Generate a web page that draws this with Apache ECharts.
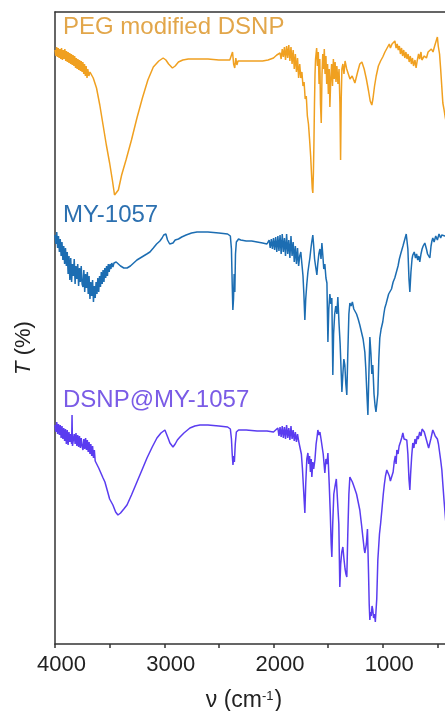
<!DOCTYPE html>
<html>
<head>
<meta charset="utf-8">
<script src="https://cdn.jsdelivr.net/npm/echarts@6/dist/echarts.min.js"></script>
<style>
  html, body { margin: 0; padding: 0; background: #ffffff; }
  #chart { width: 445px; height: 711px; }
</style>
</head>
<body>
<div id="chart"></div>
<script>
// FTIR spectra, stacked: [wavenumber (cm-1), transmittance (offset, arbitrary units)]
const xTickLabels = [4000, 3000, 2000, 1000];
const seriesNames = ['PEG modified DSNP', 'MY-1057', 'DSNP@MY-1057'];

const pegSpectrum = [
  [4000,594],[3992,588],[3985,597],[3977,587],[3970,596],[3962,586],[3955,595],[3947,585],[3940,596],[3932,584],
  [3925,594],[3917,585],[3910,595],[3902,583],[3895,593],[3887,582],[3880,592],[3872,581],[3865,591],[3857,580],
  [3850,590],[3842,579],[3835,589],[3827,578],[3820,588],[3812,576],[3805,586],[3797,575],[3790,585],[3782,574],
  [3775,584],[3767,573],[3760,583],[3752,572],[3745,582],[3737,570],[3730,580],[3722,568],[3715,578],[3707,566],
  [3700,575],[3690,568],[3680,572],[3650,566],[3620,556],[3590,539],[3560,519],[3530,499],[3500,481],[3475,464],
  [3455,449],[3440,447],[3420,454],[3390,469],[3350,484],[3300,504],[3250,526],[3200,546],[3150,564],[3100,577],
  [3050,583],[3010,586],[2985,584],[2960,580],[2925,576],[2900,578],[2870,582],[2830,584],[2780,585],[2700,585],
  [2600,585],[2500,584],[2400,584],[2385,583],[2375,592],[2365,580],[2355,576],[2345,586],[2335,579],[2325,583],
  [2300,583],[2200,583],[2100,583],[2050,584],[2000,586],[1970,589],[1940,591],[1930,585],[1920,595],[1910,587],
  [1900,597],[1890,584],[1880,598],[1870,586],[1860,599],[1850,583],[1840,597],[1830,580],[1820,594],[1810,575],
  [1800,590],[1790,572],[1780,586],[1770,566],[1760,580],[1750,566],[1740,572],[1730,558],[1720,562],[1710,545],
  [1700,548],[1690,528],[1680,520],[1670,505],[1660,488],[1652,470],[1645,455],[1640,451],[1635,470],[1630,500],
  [1625,540],[1620,570],[1615,585],[1605,596],[1598,578],[1590,592],[1583,560],[1576,585],[1570,540],[1563,521],
  [1556,570],[1549,590],[1542,575],[1535,595],[1528,570],[1520,588],[1513,560],[1505,580],[1498,550],[1490,575],
  [1484,537],[1476,565],[1468,580],[1460,558],[1452,585],[1444,565],[1436,582],[1428,562],[1420,578],[1410,560],
  [1400,575],[1392,540],[1386,484],[1380,545],[1374,575],[1365,580],[1355,570],[1345,583],[1330,575],[1315,570],
  [1300,565],[1280,568],[1255,561],[1230,572],[1210,580],[1191,582],[1170,575],[1150,565],[1130,553],[1115,543],
  [1100,539],[1090,545],[1075,558],[1060,568],[1040,578],[1020,583],[1000,587],[980,592],[960,596],[940,600],
  [930,596],[915,600],[900,598],[889,603],[878,596],[868,600],[858,594],[848,598],[838,590],[828,596],
  [818,588],[808,594],[798,586],[788,592],[778,585],[768,590],[758,582],[748,588],[738,580],[728,586],
  [718,578],[705,584],[695,576],[685,583],[672,590],[662,585],[650,592],[642,584],[620,588],[600,586],
  [585,592],[569,590],[555,595],[540,592],[525,598],[510,600],[500,607],[492,598],[480,590],[470,575],
  [460,558],[450,541],[440,535],[430,528],[420,522],[410,518],[400,515]
];

const mySpectrum = [
  [4000,409],[3992,400],[3984,412],[3976,396],[3968,408],[3960,392],[3952,405],[3944,388],[3936,402],[3928,384],
  [3920,398],[3912,380],[3904,396],[3896,378],[3888,392],[3880,370],[3872,388],[3864,364],[3856,386],[3848,362],
  [3840,380],[3832,368],[3824,385],[3816,360],[3808,378],[3800,365],[3792,380],[3784,358],[3776,376],[3768,362],
  [3760,378],[3752,360],[3744,357],[3736,374],[3728,352],[3720,370],[3712,356],[3704,372],[3696,350],[3688,368],
  [3680,345],[3672,362],[3664,348],[3656,364],[3648,342],[3640,358],[3632,346],[3624,362],[3616,350],[3608,366],
  [3600,352],[3592,368],[3584,357],[3576,372],[3568,360],[3560,374],[3552,362],[3544,376],[3536,366],[3528,378],
  [3520,368],[3512,380],[3504,372],[3496,380],[3488,375],[3480,381],[3470,377],[3460,381],[3440,382],[3400,378],
  [3370,376],[3340,376],[3310,378],[3280,381],[3250,384],[3220,386],[3190,388],[3160,390],[3131,392],[3100,396],
  [3070,400],[3040,403],[3020,406],[3005,409],[2995,411],[2985,410],[2970,404],[2950,400],[2935,398],[2920,401],
  [2900,404],[2870,405],[2840,407],[2800,409],[2750,411],[2700,412],[2600,412],[2500,411],[2420,410],[2395,408],
  [2385,395],[2378,360],[2372,334],[2366,345],[2360,370],[2354,352],[2348,390],[2340,402],[2320,405],[2300,404],
  [2250,403],[2200,403],[2150,402],[2100,401],[2060,400],[2040,404],[2030,396],[2020,405],[2010,395],[2000,406],
  [1990,394],[1980,407],[1970,392],[1960,408],[1950,393],[1940,409],[1930,390],[1920,410],[1910,392],[1900,406],
  [1890,388],[1880,410],[1870,390],[1860,404],[1850,386],[1840,408],[1830,388],[1820,402],[1810,382],[1800,398],
  [1790,380],[1780,396],[1770,378],[1760,388],[1750,392],[1740,380],[1730,368],[1722,350],[1713,324],[1705,345],
  [1695,360],[1685,372],[1675,380],[1667,386],[1658,395],[1650,402],[1640,409],[1632,398],[1624,385],[1615,378],
  [1603,369],[1595,380],[1585,390],[1575,395],[1565,385],[1557,401],[1548,388],[1540,375],[1530,380],[1520,366],
  [1511,361],[1502,302],[1494,335],[1484,350],[1475,340],[1466,346],[1457,269],[1450,310],[1440,330],[1430,338],
  [1420,330],[1411,347],[1400,320],[1390,300],[1380,270],[1374,252],[1365,270],[1356,285],[1347,279],[1338,260],
  [1329,249],[1320,290],[1310,330],[1301,341],[1290,338],[1278,342],[1265,335],[1255,336],[1240,330],[1225,325],
  [1210,319],[1195,312],[1180,305],[1164,292],[1155,275],[1145,250],[1136,229],[1127,270],[1118,307],[1108,290],
  [1100,270],[1091,279],[1080,250],[1070,238],[1062,232],[1054,234],[1045,250],[1036,285],[1027,306],[1015,315],
  [1000,322],[990,330],[981,336],[970,340],[958,345],[946,350],[935,349],[920,355],[905,362],[890,366],
  [880,370],[871,372],[860,378],[848,385],[836,390],[825,392],[815,398],[805,402],[795,406],[785,410],
  [780,409],[770,395],[760,365],[752,352],[742,372],[732,385],[725,389],[712,392],[700,386],[690,390],
  [680,384],[670,388],[661,382],[650,390],[640,395],[630,398],[615,401],[600,395],[590,390],[580,392],
  [569,386],[558,398],[550,403],[542,406],[530,402],[515,408],[500,404],[485,410],[470,406],[460,409],
  [450,407],[430,408],[400,406]
];

const dsnpMySpectrum = [
  [4000,219],[3992,212],[3984,222],[3976,210],[3968,220],[3960,209],[3952,219],[3944,206],[3936,218],[3928,205],
  [3920,216],[3912,203],[3904,215],[3896,200],[3888,214],[3880,199],[3872,212],[3864,202],[3856,210],[3848,200],
  [3844,229],[3840,198],[3832,196],[3824,210],[3816,200],[3808,211],[3800,198],[3792,209],[3784,197],[3776,208],
  [3768,196],[3760,206],[3752,198],[3744,194],[3736,205],[3728,195],[3720,206],[3712,194],[3704,204],[3696,192],
  [3688,202],[3680,190],[3672,200],[3664,188],[3656,198],[3648,186],[3640,194],[3632,183],[3616,182],[3600,176],
  [3580,171],[3560,166],[3543,162],[3520,153],[3500,145],[3470,139],[3445,132],[3424,129],[3400,131],[3370,135],
  [3341,139],[3300,149],[3250,162],[3200,175],[3158,186],[3110,197],[3067,206],[3030,211],[2994,214],[2980,212],
  [2965,206],[2948,201],[2920,197],[2900,200],[2880,204],[2856,207],[2820,211],[2765,216],[2720,218],[2673,219],
  [2600,219],[2500,218],[2420,217],[2395,215],[2385,205],[2378,190],[2371,179],[2364,188],[2358,182],[2350,200],
  [2340,212],[2320,214],[2250,214],[2150,213],[2060,213],[2000,212],[1960,216],[1950,208],[1940,217],[1930,207],
  [1920,218],[1910,206],[1900,217],[1890,205],[1880,219],[1870,206],[1860,216],[1850,204],[1840,218],[1830,205],
  [1820,214],[1810,203],[1800,212],[1790,202],[1780,210],[1770,203],[1758,201],[1745,190],[1735,175],[1725,155],
  [1713,131],[1705,160],[1695,185],[1685,191],[1678,180],[1670,188],[1662,172],[1655,185],[1649,167],[1640,182],
  [1632,175],[1621,184],[1610,200],[1600,208],[1594,214],[1585,209],[1575,212],[1565,205],[1557,204],[1545,190],
  [1530,171],[1520,185],[1510,180],[1502,191],[1490,160],[1480,130],[1472,100],[1466,87],[1458,120],[1448,150],
  [1438,157],[1425,165],[1411,167],[1402,120],[1393,57],[1385,80],[1375,92],[1365,97],[1355,85],[1345,75],
  [1337,70],[1329,67],[1320,110],[1310,150],[1301,167],[1290,165],[1278,162],[1265,158],[1255,157],[1240,150],
  [1225,142],[1210,134],[1195,120],[1180,105],[1170,95],[1164,91],[1150,100],[1140,115],[1136,117],[1130,70],
  [1124,40],[1118,24],[1112,32],[1105,28],[1098,38],[1091,34],[1084,26],[1075,30],[1068,22],[1063,24],
  [1055,45],[1045,84],[1030,110],[1020,120],[1008,134],[995,150],[985,160],[975,168],[963,174],[950,172],
  [940,168],[930,163],[917,161],[905,172],[895,182],[885,188],[878,180],[871,194],[860,190],[850,198],
  [838,202],[827,206],[816,211],[805,205],[795,207],[780,204],[770,190],[760,165],[752,154],[745,170],
  [735,188],[725,201],[715,196],[705,205],[695,200],[685,208],[675,205],[662,212],[650,208],[640,215],
  [633,217],[620,212],[605,206],[590,200],[580,196],[569,194],[560,205],[550,210],[542,214],[530,211],
  [520,208],[510,210],[500,205],[490,200],[480,192],[470,184],[459,174],[450,160],[440,145],[432,134],
  [420,118],[400,100]
];

const FONT = '"Liberation Sans", Arial, Helvetica, sans-serif';
const lineColors = ['#F0A020', '#1C6DB2', '#5A3CF0'];
const labelColors = ['#E2A64A', '#2C70B0', '#7A5BE6'];
const spectra = [pegSpectrum, mySpectrum, dsnpMySpectrum];
const labelY = [27, 215, 400];

const chart = echarts.init(document.getElementById('chart'), null, { renderer: 'canvas' });

const option = {
  animation: false,
  backgroundColor: '#ffffff',
  // plot frame runs past the right edge of the canvas (axis continues to 0 cm-1)
  grid: { left: 55, top: 12, right: -47, bottom: 67, outerBoundsMode: 'none', containLabel: false },
  xAxis: [
    {
      type: 'value', min: 0, max: 4000, interval: 500, inverse: true, position: 'bottom',
      axisLine: { onZero: false, lineStyle: { color: '#333', width: 1.5 } },
      axisTick: { length: 4, lineStyle: { color: '#333', width: 1.5 } },
      axisLabel: {
        formatter: v => (xTickLabels.includes(v) ? String(v) : ''),
        fontSize: 22, color: '#222', fontFamily: FONT, margin: 10, padding: [0, 0, 0, 13]
      },
      splitLine: { show: false }
    },
    {
      type: 'value', min: 0, max: 4000, inverse: true, position: 'top',
      axisLine: { onZero: false, lineStyle: { color: '#333', width: 1.5 } },
      axisTick: { show: false }, axisLabel: { show: false }, splitLine: { show: false }
    }
  ],
  yAxis: {
    type: 'value', min: 0, max: 632,
    axisLine: { show: true, onZero: false, lineStyle: { color: '#333', width: 1.5 } },
    axisTick: { show: false }, axisLabel: { show: false }, splitLine: { show: false }
  },
  series: spectra.map((d, i) => ({
    name: seriesNames[i],
    type: 'line',
    data: d,
    showSymbol: false,
    clip: true,
    lineStyle: { color: lineColors[i], width: 1.5 },
    itemStyle: { color: lineColors[i] }
  })),
  graphic: [
    ...seriesNames.map((name, i) => ({
      type: 'text', x: 63, y: labelY[i],
      style: { text: name, font: '24px ' + FONT, fill: labelColors[i], verticalAlign: 'middle' }
    })),
    {
      type: 'text', x: 24, y: 348, rotation: Math.PI / 2,
      style: {
        text: '{i|T} (%)', font: '22px ' + FONT, fill: '#222', align: 'center', verticalAlign: 'middle',
        rich: { i: { fontStyle: 'italic', fontSize: 22, fontFamily: FONT, fill: '#222' } }
      }
    },
    {
      type: 'text', x: 244, y: 701,
      style: {
        text: 'ν (cm{s|-1})', font: '23px ' + FONT, fill: '#222', align: 'center', verticalAlign: 'middle',
        rich: { s: { fontSize: 13, fontFamily: FONT, fill: '#222', verticalAlign: 'top', padding: [0, 1, 0, 0] } }
      }
    }
  ]
};

chart.setOption(option);
</script>
</body>
</html>
